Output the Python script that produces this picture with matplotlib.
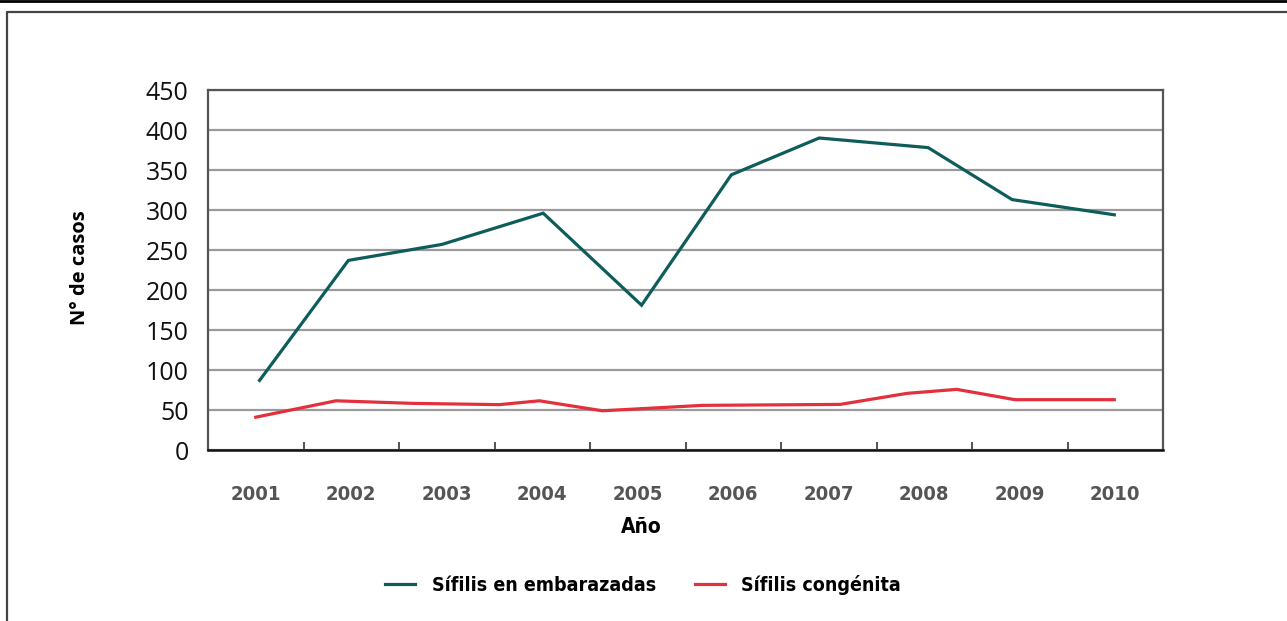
import matplotlib
matplotlib.use("Agg")
import matplotlib.pyplot as plt
from matplotlib import font_manager
from matplotlib.lines import Line2D

years = [2001, 2002, 2003, 2004, 2005, 2006, 2007, 2008, 2009, 2010]
tick_labels = [str(y) for y in years]

# Sífilis en embarazadas (x in year units)
emb_x = [2001.04, 2001.97, 2002.95, 2004.01, 2005.04, 2005.98, 2006.90, 2008.04, 2008.92, 2009.99]
emb_y = [87, 237, 257, 296, 181, 344, 390, 378, 313, 294]

# Sífilis congénita
con_x = [2001.0, 2001.84, 2002.64, 2003.55, 2003.97, 2004.63, 2005.68, 2007.12, 2007.82, 2008.34, 2008.95, 2009.99]
con_y = [41, 61.5, 58.3, 56.7, 61.5, 49, 55.8, 57, 70.8, 75.8, 62.9, 62.9]

names = {f.name for f in font_manager.fontManager.ttflist}
narrow = "Liberation Sans Narrow" if "Liberation Sans Narrow" in names else "DejaVu Sans"
narrow_kw = {"family": narrow}
if narrow == "DejaVu Sans":
    narrow_kw["stretch"] = "condensed"
plain = "Open Sans" if "Open Sans" in names else "DejaVu Sans"

green = "#0e5d5b"
red = "#e3303d"

fig = plt.figure(figsize=(12.87, 6.21), dpi=100)
ax = fig.add_axes([208 / 1287, 1 - 450 / 621, 955 / 1287, 360 / 621])

ax.plot(emb_x, emb_y, color=green, lw=2.3, solid_joinstyle="miter", label="Sífilis en embarazadas")
ax.plot(con_x, con_y, color=red, lw=2.3, solid_joinstyle="miter", label="Sífilis congénita")

ax.set_xlim(2000.5, 2010.5)
ax.set_ylim(0, 450)
ax.set_yticks(range(0, 451, 50))
ax.yaxis.grid(True, color="#9a9a9a", lw=1.6)
ax.set_axisbelow(True)

ax.set_xticks([y + 0.5 for y in years[:-1]])
ax.set_xticklabels([])
ax.set_xticks(years, minor=True)
ax.set_xticklabels(tick_labels, minor=True, fontsize=14.5, fontweight="bold", color="#555555", **narrow_kw)
ax.tick_params(axis="x", which="major", direction="in", length=6, width=1.2, color="#333333")
ax.tick_params(axis="x", which="minor", length=0, pad=25)
ax.tick_params(axis="y", length=0, pad=14)
for lab in ax.get_yticklabels():
    lab.set_fontsize(18)
    lab.set_family(plain)
    lab.set_color("#111111")

for side in ["left", "right", "top"]:
    ax.spines[side].set_color("#555555")
    ax.spines[side].set_linewidth(1.6)
ax.spines["bottom"].set_color("#111111")
ax.spines["bottom"].set_linewidth(1.8)

fig.text(80 / 1287, 1 - 268 / 621, "N° de casos", rotation=90, ha="center", va="center",
         fontsize=14.5, fontweight="bold", family=plain)
fig.text(641 / 1287, 1 - 527 / 621, "Año", ha="center", va="center",
         fontsize=15, fontweight="bold", **narrow_kw)

leg = fig.legend(loc="center", bbox_to_anchor=(643 / 1287, 1 - 585 / 621), ncol=2, frameon=False,
                 handlelength=1.55, handletextpad=0.85, columnspacing=2.0,
                 prop=font_manager.FontProperties(size=14, weight="bold", **narrow_kw))

# outer frame of the page
fig.add_artist(Line2D([0, 1], [1 - 1 / 621, 1 - 1 / 621], transform=fig.transFigure, color="black", lw=2))
fig.add_artist(Line2D([7 / 1287, 7 / 1287, 1], [0, 1 - 12 / 621, 1 - 12 / 621], transform=fig.transFigure,
                      color="#444444", lw=1.6))

fig.savefig("out.png", dpi=100)
